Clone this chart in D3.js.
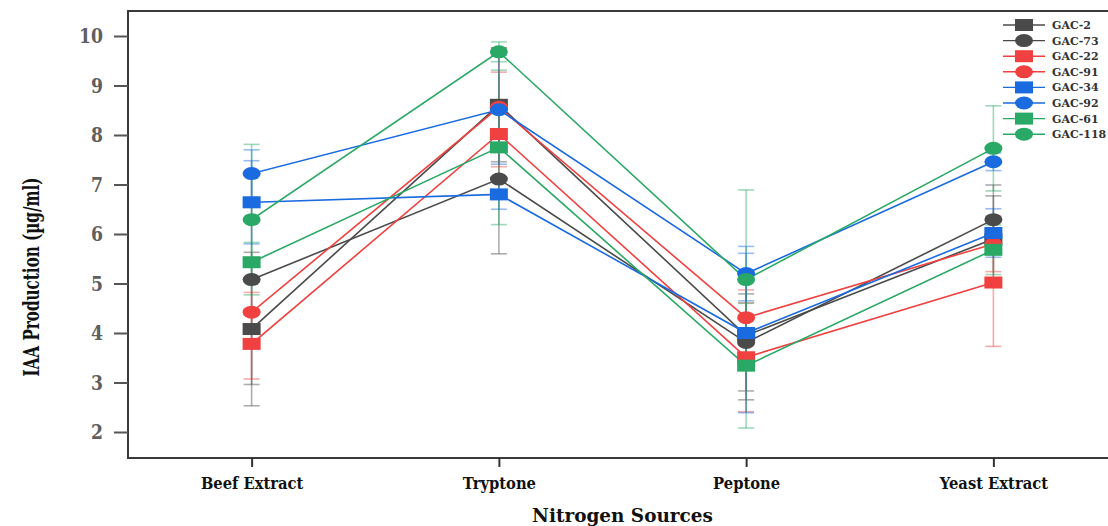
<!DOCTYPE html>
<html>
<head>
<meta charset="utf-8">
<script src="https://cdn.jsdelivr.net/npm/d3@7"></script>
<style>
  body { margin: 0; background: #fff; }
  svg { display: block; }
  .lbl { font-family: 'DejaVu Serif', serif; font-weight: bold; }
</style>
</head>
<body>
<svg id="chart" width="1108" height="526"></svg>
<script>
// nitrogen sources on the x axis
var sources = ["Beef Extract", "Tryptone", "Peptone", "Yeast Extract"];
var yTicks = [2, 3, 4, 5, 6, 7, 8, 9, 10];

// isolates, in legend order
var isolates = ["GAC-2", "GAC-73", "GAC-22", "GAC-91", "GAC-34", "GAC-92", "GAC-61", "GAC-118"];
var shapes   = ["square", "circle", "square", "circle", "square", "circle", "square", "circle"];
var colors   = ["#4a4a4a", "#4a4a4a", "#f04040", "#f04040", "#1a6ae0", "#1a6ae0", "#2aa865", "#2aa865"];

// mean IAA (µg/ml), one row per isolate, columns follow sources
var means = [
    [4.08, 8.61, 3.95, 5.90],
    [5.08, 7.11, 3.81, 6.29],
    [3.78, 8.02, 3.51, 5.02],
    [4.42, 8.56, 4.31, 5.80],
    [6.64, 6.80, 4.00, 6.02],
    [7.22, 8.51, 5.20, 7.46],
    [5.43, 7.75, 3.34, 5.68],
    [6.29, 9.68, 5.08, 7.73]
];
// error (± sd)
var errs = [
    [1.55, 1.15, 1.30, 0.87],
    [2.12, 1.51, 0.98, 0.70],
    [0.71, 1.25, 1.10, 1.29],
    [0.40, 1.20, 0.56, 0.56],
    [0.84, 0.30, 1.61, 0.49],
    [0.48, 1.10, 0.55, 0.18],
    [0.40, 1.56, 1.26, 0.50],
    [1.52, 0.20, 1.81, 0.86]
];

var svg = d3.select('#chart');
var mLeft = 128, mRight = 1117, mTop = 12, mBottom = 458;

var x = d3.scalePoint().domain(sources).range([mLeft, mRight]).padding(0.5);
var y = d3.scaleLinear().domain([10, 2]).range([36, 432]);

// squeeze or stretch text horizontally (the source font is a condensed slab)
function squeeze(sel, k) {
    sel.each(function() {
        var w = this.getComputedTextLength();
        d3.select(this).attr('textLength', w * k).attr('lengthAdjust', 'spacingAndGlyphs');
    });
}

// frame
svg.append('rect')
    .attr('x', mLeft).attr('y', mTop - 1)
    .attr('width', mRight - mLeft).attr('height', mBottom - mTop + 1)
    .attr('fill', 'none').attr('stroke', '#3a3a3a').attr('stroke-width', 2);

// y axis
var yAxis = svg.append('g')
    .attr('transform', 'translate(' + mLeft + ',0)')
    .call(d3.axisLeft(y).tickValues(yTicks).tickSize(14).tickPadding(11).tickFormat(d3.format('d')));
yAxis.select('.domain').remove();
yAxis.selectAll('line').attr('stroke', '#555').attr('stroke-width', 2);
yAxis.selectAll('text').attr('class', 'lbl').attr('font-size', 21).attr('fill', '#5e5e5e');
squeeze(yAxis.selectAll('text'), 0.82);

// x axis
var xAxis = svg.append('g')
    .attr('transform', 'translate(0,' + mBottom + ')')
    .call(d3.axisBottom(x).tickSize(9).tickPadding(11));
xAxis.select('.domain').remove();
xAxis.selectAll('line').attr('stroke', '#333').attr('stroke-width', 2);
xAxis.selectAll('text').attr('class', 'lbl').attr('font-size', 16).attr('fill', '#111');
squeeze(xAxis.selectAll('text'), 0.92);

// axis titles
var xt = svg.append('text').attr('class', 'lbl')
    .attr('x', (mLeft + mRight) / 2).attr('y', 522)
    .attr('text-anchor', 'middle').attr('font-size', 19).attr('fill', '#111')
    .text('Nitrogen Sources');
squeeze(xt, 0.97);
var yt = svg.append('text').attr('class', 'lbl')
    .attr('transform', 'translate(39,277) rotate(-90)')
    .attr('text-anchor', 'middle').attr('font-size', 23).attr('fill', '#111')
    .text('IAA Production (µg/ml)');
squeeze(yt, 0.66);

var series = isolates.map(function(name, i) {
    return {
        name: name, shape: shapes[i], color: colors[i],
        pts: sources.map(function(s, j) { return {src: s, v: means[i][j], e: errs[i][j]}; })
    };
});

// error bars
var eb = svg.append('g').selectAll('g').data(series).enter().append('g')
    .attr('stroke', function(d) { return d.color; })
    .attr('stroke-opacity', 0.45)
    .attr('stroke-width', 1.6);
eb.selectAll('g').data(function(d) { return d.pts; }).enter().append('g')
    .each(function(p) {
        var g = d3.select(this), cx = x(p.src);
        g.append('line').attr('x1', cx).attr('x2', cx).attr('y1', y(p.v + p.e)).attr('y2', y(p.v - p.e));
        g.append('line').attr('x1', cx - 8).attr('x2', cx + 8).attr('y1', y(p.v + p.e)).attr('y2', y(p.v + p.e));
        g.append('line').attr('x1', cx - 8).attr('x2', cx + 8).attr('y1', y(p.v - p.e)).attr('y2', y(p.v - p.e));
    });

// lines
var line = d3.line().x(function(p) { return x(p.src); }).y(function(p) { return y(p.v); });
svg.append('g').selectAll('path').data(series).enter().append('path')
    .attr('d', function(d) { return line(d.pts); })
    .attr('fill', 'none')
    .attr('stroke', function(d) { return d.color; })
    .attr('stroke-width', 1.6);

function marker(g, shape, color, cx, cy) {
    if (shape === 'square') {
        g.append('rect').attr('x', cx - 9).attr('y', cy - 6).attr('width', 18).attr('height', 12).attr('fill', color);
    } else {
        g.append('ellipse').attr('cx', cx).attr('cy', cy).attr('rx', 9).attr('ry', 6.5).attr('fill', color);
    }
}

// markers
var mk = svg.append('g');
series.forEach(function(d) {
    d.pts.forEach(function(p) { marker(mk, d.shape, d.color, x(p.src), y(p.v)); });
});

// legend
var lg = svg.append('g').attr('transform', 'translate(1003,25)');
series.forEach(function(d, i) {
    var row = lg.append('g').attr('transform', 'translate(0,' + (i * 15.6) + ')');
    row.append('line').attr('x1', 0).attr('x2', 42).attr('y1', 0).attr('y2', 0)
        .attr('stroke', d.color).attr('stroke-width', 1.4);
    marker(row, d.shape, d.color, 21, 0);
    row.append('text').attr('class', 'lbl')
        .attr('x', 49).attr('y', 4).attr('font-size', 11).attr('fill', '#333')
        .text(d.name);
});
</script>
</body>
</html>
